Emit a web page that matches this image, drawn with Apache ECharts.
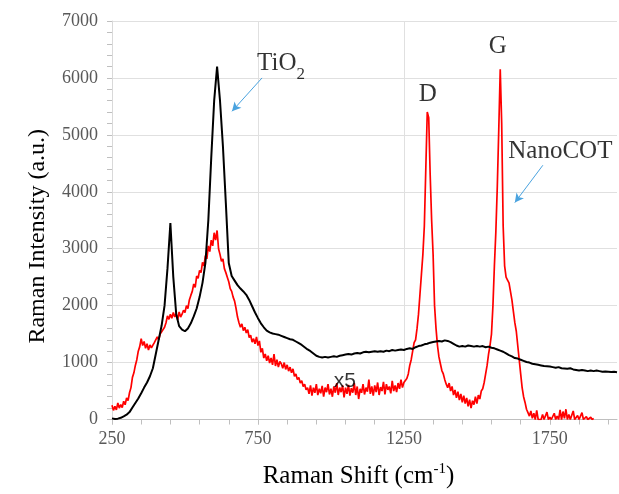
<!DOCTYPE html>
<html>
<head>
<meta charset="utf-8">
<script src="https://cdn.jsdelivr.net/npm/echarts@6/dist/echarts.min.js"></script>
<style>html,body{margin:0;padding:0;background:#fff}#c{width:619px;height:494px}</style>
</head>
<body>
<div id="c"></div>
<script>
// Raman shift sampling (cm-1): start of the recorded grids and their steps
const shiftStart = 250;
const tio2Step = 10;
const nanocotStep = 5;

// TiO2 spectrum (black), 250..1980 every 10 cm-1
const tio2Intensity = [
  20,10,15,30,55,85,130,210,290,370,
  460,560,650,760,900,1150,1400,1650,2000,2650,
  3450,2500,1850,1640,1580,1550,1600,1690,1810,1950,
  2150,2400,2750,3500,4600,5600,6200,5600,4800,3800,
  2750,2520,2440,2360,2300,2250,2190,2100,1990,1880,
  1780,1690,1620,1560,1530,1510,1500,1490,1470,1450,
  1430,1410,1400,1370,1340,1310,1270,1230,1200,1160,
  1120,1100,1090,1100,1090,1100,1110,1100,1120,1130,
  1140,1150,1140,1160,1170,1160,1180,1190,1180,1190,
  1200,1190,1200,1190,1210,1200,1220,1210,1220,1230,
  1220,1240,1250,1240,1270,1290,1300,1320,1330,1350,
  1360,1370,1380,1370,1390,1380,1360,1330,1300,1280,
  1290,1280,1300,1290,1280,1290,1280,1290,1270,1280,
  1260,1250,1230,1210,1190,1160,1130,1110,1080,1070,
  1050,1030,1010,1000,980,970,960,950,940,935,
  930,920,910,920,900,895,890,900,880,870,
  860,870,860,850,860,850,860,850,840,845,
  840,835,840,830
];

// NanoCOT spectrum x5 (red), 250..1900 every 5 cm-1
const nanocotIntensity = [
  250,160,230,170,290,200,260,210,320,260,380,330,470,560,740,820,950,1050,1200,1280,
  1420,1300,1370,1250,1330,1220,1310,1260,1290,1350,1320,1450,1400,1500,1470,1580,1620,1700,1820,1760,
  1850,1780,1880,1800,1860,1750,1890,1800,1850,1920,1880,2000,1950,2100,2180,2250,2380,2320,2520,2480,
  2620,2580,2760,2700,2880,2820,3050,2950,3150,3050,3280,3150,3320,3000,2900,2780,2820,2650,2580,2500,
  2420,2300,2250,2150,2080,1950,1800,1700,1620,1680,1560,1620,1520,1580,1440,1480,1360,1420,1330,1450,
  1300,1380,1180,1250,1080,1150,1030,1120,990,1080,960,1150,940,1050,920,1020,980,900,1000,880,
  960,850,920,820,890,760,800,700,740,640,680,580,620,520,560,450,600,420,560,470,
  620,430,540,460,590,400,560,480,620,440,540,400,580,470,640,430,560,480,600,390,
  560,450,610,420,550,470,640,430,580,360,540,470,620,440,560,490,700,450,580,420,
  600,480,650,430,570,500,660,440,620,520,580,460,680,500,600,480,640,540,700,560,
  650,620,720,800,950,1050,1200,1350,1400,1600,1850,2200,2550,2900,3400,4400,5400,5300,4300,3500,
  2900,2000,1600,1300,1100,980,860,800,700,620,560,640,500,580,430,520,380,490,340,450,
  300,420,280,380,230,350,200,330,260,400,280,430,360,500,540,650,800,950,1150,1300,
  1500,2000,2700,3300,4100,5100,6150,5200,3400,2700,2500,2450,2400,2250,2100,1900,1700,1550,1300,1050,
  800,560,400,300,180,120,60,150,20,110,0,160,0,30,0,90,0,0,130,0,
  40,0,0,110,0,60,0,170,0,140,20,180,0,90,0,0,150,0,0,70,
  0,0,120,0,0,50,0,0,40,0,20
];

// Axis ticks
const xLabelTicks = [250, 750, 1250, 1750];
const xMinorTicks = [250,350,450,550,650,750,850,950,1050,1150,1250,1350,1450,1550,1650,1750,1850,1950];

// Annotations (text, data coords)
const annotations = [
  {text: '{m|TiO}{s|2}', coord: [829, 6250]},
  {text: '{m|D}', coord: [1332, 5715]},
  {text: '{m|G}', coord: [1572, 6560]},
  {text: '{m|NanoCOT}', coord: [1786, 4710]},
  {text: '{x|x5}', coord: [1048, 672]}
];
const arrows = [
  [[764, 6000], [661, 5414]],
  [[1726, 4466], [1630, 3810]]
];

const toPairs = (arr, step) => arr.map((v, i) => [shiftStart + i * step, v]);
const plain = (v) => String(v);

const serif = 'Liberation Serif';
const chart = echarts.init(document.getElementById('c'), null, {renderer: 'canvas'});
chart.setOption({
  animation: false,
  backgroundColor: '#fff',
  grid: {left: 112, right: 2, top: 21, bottom: 67, containLabel: false},
  xAxis: [{
    type: 'value', min: 250, max: 1980,
    name: '{n|Raman Shift (cm}{p|-1}{n|)}',
    nameLocation: 'middle', nameGap: 42,
    nameTextStyle: {
      padding: [0, 12, 0, 0],
      rich: {
        n: {fontFamily: serif, fontSize: 25, color: '#000', lineHeight: 30},
        p: {fontFamily: serif, fontSize: 15, color: '#000', verticalAlign: 'top', lineHeight: 30, padding: [0, 0, 12, 0]}
      }
    },
    axisLine: {show: true, lineStyle: {color: '#bfbfbf', width: 1}},
    axisTick: {show: true, customValues: xLabelTicks, length: 5, lineStyle: {color: '#bfbfbf'}},
    axisLabel: {customValues: xLabelTicks, formatter: plain, fontFamily: serif, fontSize: 18, color: '#595959', margin: 11},
    splitLine: {show: true, showMaxLine: false, lineStyle: {color: '#e0e0e0', width: 1}}
  }, {
    type: 'value', min: 250, max: 1980, position: 'bottom',
    axisLine: {show: false},
    axisTick: {show: true, customValues: xMinorTicks, length: 5, lineStyle: {color: '#bfbfbf'}},
    axisLabel: {show: false},
    splitLine: {show: false}
  }],
  yAxis: {
    type: 'value', min: 0, max: 7000, interval: 1000,
    name: 'Raman Intensity (a.u.)',
    nameLocation: 'middle', nameGap: 62, nameRotate: 90,
    nameTextStyle: {fontFamily: serif, fontSize: 24, color: '#000', padding: [0, 32, 0, 0]},
    axisLine: {show: true, lineStyle: {color: '#d9d9d9', width: 1}},
    axisTick: {show: true, length: 5, lineStyle: {color: '#bfbfbf'}},
    minorTick: {show: true, splitNumber: 5, length: 5, lineStyle: {color: '#bfbfbf'}},
    axisLabel: {formatter: plain, fontFamily: serif, fontSize: 18, color: '#595959', margin: 14},
    splitLine: {show: true, lineStyle: {color: '#e0e0e0', width: 1}}
  },
  series: [{
    name: 'TiO2', type: 'line', xAxisIndex: 0, data: toPairs(tio2Intensity, tio2Step),
    showSymbol: false, symbol: 'none', lineStyle: {color: '#000', width: 2}, z: 3
  }, {
    name: 'NanoCOT x5', type: 'line', xAxisIndex: 0, data: toPairs(nanocotIntensity, nanocotStep),
    showSymbol: false, symbol: 'none', lineStyle: {color: '#ff0000', width: 1.7}, z: 2
  }, {
    name: 'annotations', type: 'scatter', xAxisIndex: 0, symbolSize: 0, silent: true, z: 5,
    data: annotations.map(a => ({value: a.coord, label: {formatter: a.text}})),
    label: {
      show: true, position: 'inside',
      rich: {
        m: {fontFamily: serif, fontSize: 25, color: '#000', lineHeight: 30},
        s: {fontFamily: serif, fontSize: 17, color: '#000', lineHeight: 38, verticalAlign: 'bottom'},
        x: {fontFamily: 'Liberation Sans', fontSize: 21, color: '#000', lineHeight: 24}
      }
    },
    markLine: {
      silent: true, symbol: ['none', 'arrow'], symbolSize: [7, 9],
      label: {show: false},
      lineStyle: {color: '#4aa3df', width: 1, type: 'solid'},
      data: arrows.map(a => [{coord: a[0]}, {coord: a[1]}])
    }
  }]
});
</script>
</body>
</html>
